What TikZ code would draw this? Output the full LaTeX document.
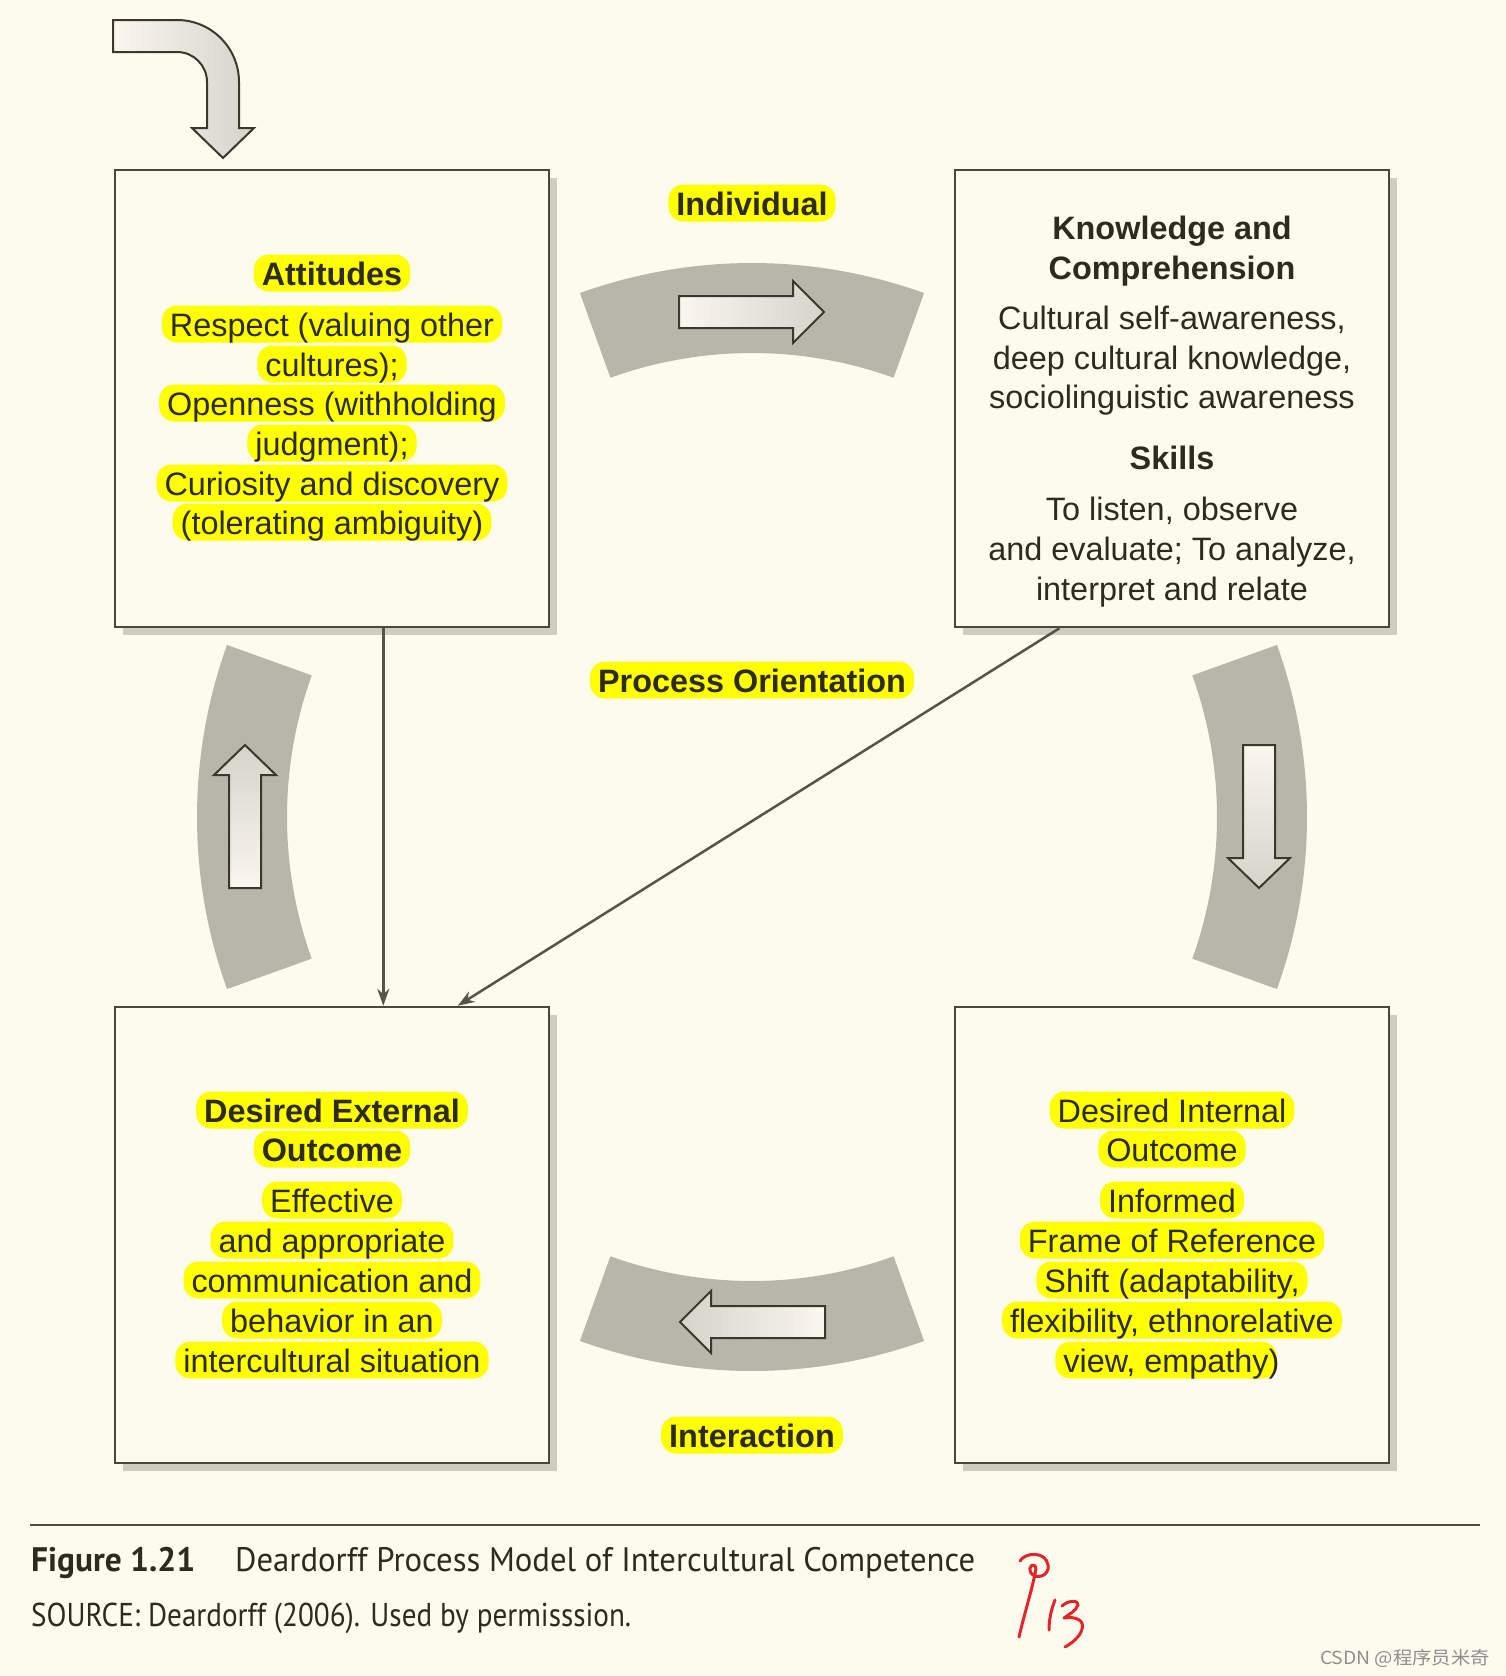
\documentclass[tikz,border=0pt]{standalone}
\usepackage{fontspec}
\usepackage{graphicx}
\usetikzlibrary{arrows.meta,shadows,calc}
\newfontfamily\dgfont{Liberation Sans}
\newfontfamily\capfont{PT Sans}
\newfontfamily\cjkfont{Noto Sans CJK SC}
\definecolor{bg}{HTML}{FDFBEE}
\definecolor{boxline}{HTML}{4A483E}
\definecolor{shadowc}{HTML}{CFCCC0}
\definecolor{band}{HTML}{B8B5AA}
\definecolor{txt}{HTML}{2D2A1E}
\definecolor{hly}{HTML}{FFFF00}
\definecolor{arrowline}{HTML}{3A382C}
\definecolor{arrowlight}{HTML}{FBF6EE}
\definecolor{arrowdark}{HTML}{D4D4CA}
\definecolor{connc}{HTML}{55534A}
\definecolor{caplinec}{HTML}{4F4E44}
\definecolor{pen}{HTML}{E3242B}
\definecolor{wm}{HTML}{8E8E8E}
\tikzset{
  panel/.style={draw=boxline, line width=2.5pt, fill=bg, minimum width=434pt,
    minimum height=457pt, inner sep=0pt,
    drop shadow={shadow xshift=8pt, shadow yshift=-8pt, fill=shadowc, opacity=1}},
  txtline/.style={font={\dgfont\fontsize{32.4pt}{40pt}\selectfont}, text=txt,
    text height=28pt, text depth=3pt, inner ysep=3pt, inner xsep=8pt},
  boldline/.style={txtline, font={\dgfont\bfseries\fontsize{32.4pt}{40pt}\selectfont}},
  hl/.style={txtline, fill=hly, rounded corners=15pt},
  hlb/.style={boldline, fill=hly, rounded corners=15pt},
  bandshape/.style={fill=band, draw=none},
  bigarrow/.style={draw=arrowline, line width=2pt, line join=miter},
  connector/.style={draw=connc, line width=2.5pt, -{Stealth[length=17pt,width=12pt]}},
  capnode/.style={anchor=base west, inner sep=0pt, text=txt},
  penstroke/.style={draw=pen, line width=3pt, line cap=round, line join=round}
}
\begin{document}
\begin{tikzpicture}[x=1pt,y=-1pt]
\useasboundingbox (0,0) rectangle (1506,1676);
\fill[bg] (0,0) rectangle (1506,1676);

% ---------- boxes ----------
\node[panel] (att)  at (332,398.5) {};
\node[panel] (know) at (1172,398.5) {};
\node[panel, minimum height=456pt] (ext) at (332,1235) {};
\node[panel, minimum height=456pt] (int) at (1172,1235) {};

% ---------- curved bands ----------
\path[bandshape, shift={(752,771)}] (-109.8:508) arc[start angle=-109.8, end angle=-70.2, radius=508]
  -- (-70.2:418) arc[start angle=-70.2, end angle=-109.8, radius=418] -- cycle;
\path[bandshape, shift={(752,863)}] (70.2:508) arc[start angle=70.2, end angle=109.8, radius=508]
  -- (109.8:418) arc[start angle=109.8, end angle=70.2, radius=418] -- cycle;
\path[bandshape, shift={(705,817)}] (160.2:508) arc[start angle=160.2, end angle=199.8, radius=508]
  -- (199.8:418) arc[start angle=199.8, end angle=160.2, radius=418] -- cycle;
\path[bandshape, shift={(799,817)}] (-19.8:508) arc[start angle=-19.8, end angle=19.8, radius=508]
  -- (19.8:418) arc[start angle=19.8, end angle=-19.8, radius=418] -- cycle;

% ---------- block arrows ----------
% entry arrow (top left)
\path[bigarrow, left color=arrowlight, right color=arrowdark]
  (113,20) -- (177,20) arc[start angle=-90, end angle=0, radius=62] -- (239,128) -- (254,128)
  -- (223,158) -- (192,128) -- (207,128) -- (207,82) arc[start angle=0, end angle=-90, radius=30]
  -- (113,52) -- cycle;
% right-pointing (top)
\path[bigarrow, left color=arrowlight, right color=arrowdark]
  (679,296) -- (793,296) -- (793,281) -- (824,312) -- (793,343) -- (793,328) -- (679,328) -- cycle;
% up-pointing (left)
\path[bigarrow, bottom color=arrowlight, top color=arrowdark]
  (229,888) -- (229,775) -- (214,775) -- (245,745) -- (276,775) -- (261,775) -- (261,888) -- cycle;
% down-pointing (right)
\path[bigarrow, top color=arrowlight, bottom color=arrowdark]
  (1243,745) -- (1243,858) -- (1228,858) -- (1259,888) -- (1290,858) -- (1275,858) -- (1275,745) -- cycle;
% left-pointing (bottom)
\path[bigarrow, right color=arrowlight, left color=arrowdark]
  (825,1306) -- (711,1306) -- (711,1291) -- (680,1322) -- (711,1353) -- (711,1338) -- (825,1338) -- cycle;

% ---------- connectors ----------
\draw[connector] ($(att.south west)!0.6175!(att.south east)$) -- ($(ext.north west)!0.6175!(ext.north east)$);
\draw[connector] ($(know.south west)!0.242!(know.south east)$) -- ($(ext.north west)!0.788!(ext.north east)$);

% ---------- labels ----------
\node[hlb] (lindiv) at (752,203) {Individual};
\node[hlb] (lproc) at (752,680) {Process Orientation};
\node[hlb] (linter) at (752,1435) {Interaction};

% ---------- Attitudes ----------
\node[hlb] (a0) at (332,273) {Attitudes};
\node[hl] (a1) at (332,324) {Respect (valuing other};
\node[hl] (a2) at (332,364) {cultures);};
\node[hl] (a3) at (332,403) {Openness (withholding};
\node[hl] (a4) at (332,443) {judgment);};
\node[hl] (a5) at (332,483) {Curiosity and discovery};
\node[hl] (a6) at (332,522) {(tolerating ambiguity)};

% ---------- Knowledge ----------
\node[boldline] (k0) at (1172,227) {Knowledge and};
\node[boldline] (k1) at (1172,267) {Comprehension};
\node[txtline] (k2) at (1172,317) {Cultural self-awareness,};
\node[txtline] (k3) at (1172,357) {deep cultural knowledge,};
\node[txtline] (k4) at (1172,396) {sociolinguistic awareness};
\node[boldline] (k5) at (1172,457) {Skills};
\node[txtline] (k6) at (1172,508) {To listen, observe};
\node[txtline] (k7) at (1172,548) {and evaluate; To analyze,};
\node[txtline] (k8) at (1172,588) {interpret and relate};

% ---------- External ----------
\node[hlb] (e0) at (332,1110) {Desired External};
\node[hlb] (e1) at (332,1149) {Outcome};
\node[hl] (e2) at (332,1200) {Effective};
\node[hl] (e3) at (332,1240) {and appropriate};
\node[hl] (e4) at (332,1280) {communication and};
\node[hl] (e5) at (332,1320) {behavior in an};
\node[hl] (e6) at (332,1360) {intercultural situation};

% ---------- Internal ----------
\node[hl] (i0) at (1172,1110) {Desired Internal};
\node[hl] (i1) at (1172,1149) {Outcome};
\node[hl] (i2) at (1172,1200) {Informed};
\node[hl] (i3) at (1172,1240) {Frame of Reference};
\node[hl] (i4) at (1172,1280) {Shift (adaptability,};
\node[hl] (i5) at (1172,1320) {flexibility, ethnorelative};
\node[hl] (i6) at (1166,1360) {view, empathy\rlap{)}};

% ---------- caption ----------
\draw[draw=caplinec, line width=2.5pt] (30,1525) -- (1480,1525);
\node[capnode, font={\capfont\bfseries\fontsize{34pt}{40pt}\selectfont}] (figlab) at (31,1571)
  {\resizebox{164pt}{\height}{Figure 1.21}};
\node[capnode, font={\capfont\fontsize{34pt}{40pt}\selectfont}] (figtitle) at (235,1571)
  {\resizebox{740pt}{\height}{Deardorff Process Model of Intercultural Competence}};
\node[capnode, font={\capfont\fontsize{33pt}{40pt}\selectfont}] (figsrc) at (31,1626)
  {\resizebox{600pt}{\height}{SOURCE: Deardorff (2006). Used by permisssion.}};

% ---------- handwriting ----------
\draw[penstroke] (1020,1561) .. controls (1025,1552) and (1046,1551) .. (1048,1565)
  .. controls (1050,1576) and (1036,1580) .. (1031,1573)
  .. controls (1027,1566) and (1035,1561) .. (1036,1569)
  .. controls (1032,1590) and (1024,1615) .. (1019,1637);
\draw[penstroke] (1055,1600) .. controls (1051,1610) and (1049,1620) .. (1049,1630);
\draw[penstroke] (1062,1606) .. controls (1068,1600) and (1079,1600) .. (1078,1605)
  .. controls (1076,1611) and (1068,1615) .. (1064,1618)
  .. controls (1075,1616) and (1085,1620) .. (1082,1629)
  .. controls (1080,1637) and (1072,1643) .. (1065,1647);

% ---------- watermark ----------
\node[inner sep=0pt, text=wm, font={\cjkfont\fontsize{18pt}{20pt}\selectfont}] (wmark) at (1405,1658)
  {\resizebox{170pt}{\height}{CSDN @程序员米奇}};
\end{tikzpicture}
\end{document}
